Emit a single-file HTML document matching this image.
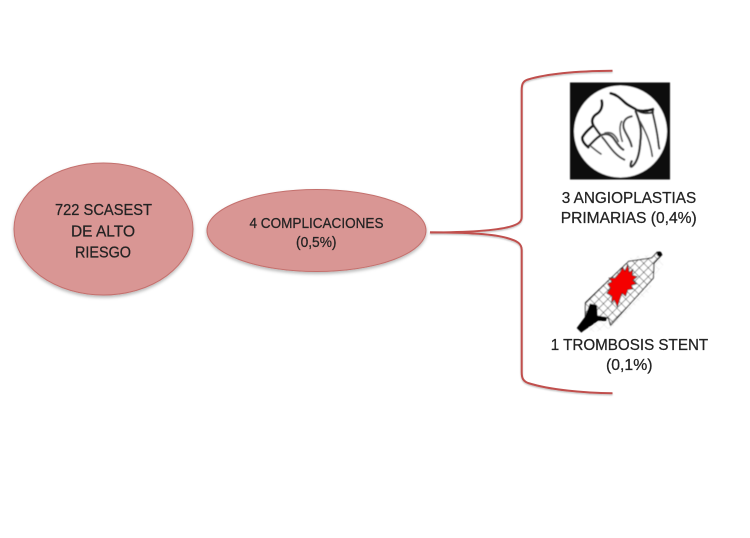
<!DOCTYPE html>
<html lang="es">
<head>
<meta charset="utf-8">
<title>Complicaciones</title>
<style>
html,body{margin:0;padding:0;background:#fff;width:750px;height:538px;overflow:hidden}
svg{display:block}
text{font-family:"Liberation Sans",sans-serif;fill:#222;stroke:#222;stroke-width:.25;font-size:16px;filter:url(#ts)}
</style>
</head>
<body>
<svg width="750" height="538" viewBox="0 0 750 538" xmlns="http://www.w3.org/2000/svg">
<defs>
<filter id="sh" x="-10%" y="-10%" width="120%" height="125%">
<feDropShadow dx="0" dy="2" stdDeviation="1.5" flood-color="#000" flood-opacity=".28"/>
</filter>
<filter id="ls" x="-5%" y="-5%" width="110%" height="110%">
<feDropShadow dx="0" dy="1.2" stdDeviation=".8" flood-color="#000" flood-opacity=".25"/>
</filter>
<filter id="b1" x="-5%" y="-5%" width="110%" height="110%"><feGaussianBlur stdDeviation=".5"/></filter>
<filter id="b2" x="-5%" y="-5%" width="110%" height="110%"><feGaussianBlur stdDeviation=".4"/></filter>
<filter id="ts" x="-5%" y="-20%" width="110%" height="140%"><feGaussianBlur stdDeviation=".25"/></filter>
<pattern id="mesh" width="19" height="19" patternUnits="userSpaceOnUse" patternTransform="translate(154 112) rotate(45)">
<rect width="19" height="19" fill="#fff"/>
<path d="M0 0H19M0 0V19" stroke="#222" stroke-width="3.2"/>
</pattern>
<pattern id="ghost" width="18" height="18" patternUnits="userSpaceOnUse" patternTransform="rotate(45)">
<path d="M0 0H18M0 0V18" stroke="#e6e6e6" stroke-width="3"/>
</pattern>
</defs>

<ellipse cx="103.5" cy="229" rx="89.5" ry="66" fill="#d99694" stroke="#c4706d" stroke-width="1" filter="url(#sh)"/>
<ellipse cx="316.5" cy="230.5" rx="109.5" ry="41" fill="#d99694" stroke="#c4706d" stroke-width="1" filter="url(#sh)"/>

<g fill="none" stroke="#c0504d" stroke-width="2" filter="url(#ls)">
<path d="M430 232.4C450 232.4 490 232 510 226.7C518 224.5 521.7 222 521.7 217L521.7 90C521.7 84 523 81 528 79.5C550 73 585 71 612.5 70.8"/>
<path d="M430 232.4C450 232.4 490 233 507 238C518 241 521.7 244 521.7 250L521.7 372C521.7 378 523 381 528 383C550 390 585 393 612.5 393.3"/>
</g>

<text x="55" y="215" textLength="97" lengthAdjust="spacingAndGlyphs">722 SCASEST</text>
<text x="71" y="236.5" textLength="64" lengthAdjust="spacingAndGlyphs">DE ALTO</text>
<text x="75" y="257.5" textLength="56" lengthAdjust="spacingAndGlyphs">RIESGO</text>

<text x="249.5" y="228" textLength="134" lengthAdjust="spacingAndGlyphs" style="font-size:14.5px">4 COMPLICACIONES</text>
<text x="296" y="247" textLength="40.5" lengthAdjust="spacingAndGlyphs" style="font-size:14.5px">(0,5%)</text>

<text x="561.7" y="203" textLength="134.5" lengthAdjust="spacingAndGlyphs">3 ANGIOPLASTIAS</text>
<text x="560.7" y="223" textLength="136" lengthAdjust="spacingAndGlyphs">PRIMARIAS (0,4%)</text>
<text x="550.7" y="350" textLength="157.5" lengthAdjust="spacingAndGlyphs">1 TROMBOSIS STENT</text>
<text x="606" y="370" textLength="46.5" lengthAdjust="spacingAndGlyphs">(0,1%)</text>

<!-- angiogram -->
<g filter="url(#b1)">
<rect x="570" y="82.5" width="100" height="97" fill="#0a0a0a"/>
<ellipse cx="620.5" cy="131.5" rx="46.5" ry="46" fill="#fff"/>
<g transform="translate(565 78) scale(.3333)" fill="none" stroke-linecap="round" stroke-linejoin="round">
<path d="M137 46C155 50 165 60 178 72C190 84 205 88 215 96C230 100 250 98 264 94" stroke="#111" stroke-width="8"/>
<path d="M215 96C232 108 250 106 264 104L264 92" stroke="#222" stroke-width="6"/>
<path d="M262 100C268 125 274 150 278 178C280 190 280 200 283 212" stroke="#333" stroke-width="6"/>
<path d="M212 100C222 125 232 150 226 190C224 225 216 255 200 266C195 268 196 258 200 250" stroke="#333" stroke-width="7"/>
<path d="M225 130C240 160 255 185 262 235" stroke="#444" stroke-width="5"/>
<path d="M200 115C185 118 172 128 176 150C182 170 195 180 200 205" stroke="#444" stroke-width="6.5"/>
<path d="M170 130C162 145 164 165 172 190" stroke="#555" stroke-width="5"/>
<path d="M110 68C114 85 108 100 95 108C82 116 78 130 85 142C74 152 62 160 52 178C50 190 60 200 70 208" stroke="#111" stroke-width="8"/>
<path d="M85 142C95 155 100 165 108 172C92 180 82 195 70 205" stroke="#222" stroke-width="7"/>
<path d="M108 172C122 165 135 168 145 180C155 195 165 210 175 215" stroke="#444" stroke-width="7"/>
<path d="M112 178C128 195 145 230 178 245" stroke="#444" stroke-width="6"/>
<path d="M120 165C140 160 150 170 160 190" stroke="#555" stroke-width="5"/>
<path d="M78 205C90 215 98 222 108 228" stroke="#555" stroke-width="5"/>
</g>
</g>

<!-- stent -->
<g filter="url(#b2)">
<g transform="translate(570 248) scale(.3333)">
<path d="M40 165L185 25L255 20L285 45L250 85L240 130L125 240L60 255Z" fill="url(#ghost)"/>
<path d="M46 164L176 40L245 30L262 12L276 20L252 46L250 90L122 232L115 210L82 204L34 252L22 240L46 208Z" fill="url(#mesh)" stroke="#222" stroke-width="3" stroke-linejoin="round"/>
<path d="M60 168L80 172L82 205L110 208L108 218L84 218L34 252L22 240L46 208Z" fill="#000" stroke="#000" stroke-width="2" stroke-linejoin="round"/>
<circle cx="268" cy="18" r="7.5" fill="#000"/>
<g transform="translate(155 112) scale(1.08) translate(-155 -112)">
<path d="M150 76L158 62L164 72L172 54L176 76L186 68L184 84L198 88L186 98L196 108L182 112L186 122L172 124L166 142L156 134L150 150L143 172L135 152L127 160L128 142L114 134L124 120L116 108L128 102L120 92L136 92Z" fill="#f40000" stroke="#222" stroke-width="2" stroke-linejoin="miter"/>
</g>
</g>
</g>
</svg>
</body>
</html>
